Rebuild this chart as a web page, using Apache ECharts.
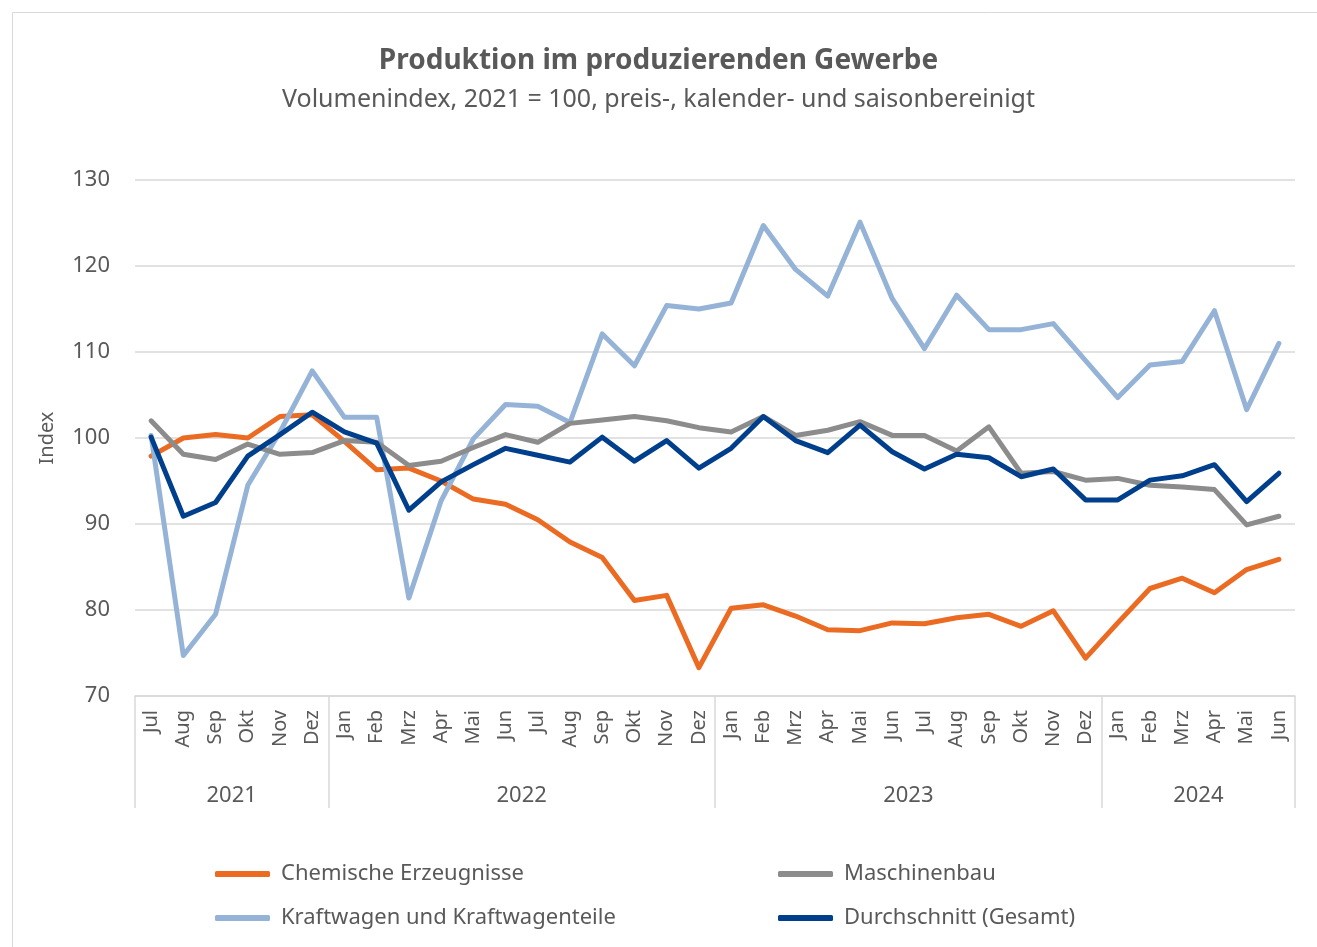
<!DOCTYPE html>
<html>
<head>
<meta charset="utf-8">
<script src="https://cdn.jsdelivr.net/npm/echarts@6/dist/echarts.min.js"></script>
<style>
html,body{margin:0;padding:0;background:#fff;}
#chart{width:1317px;height:947px;}
</style>
</head>
<body>
<div id="chart"></div>
<script>
// ---- data ----
const months = ['Jul','Aug','Sep','Okt','Nov','Dez',
  'Jan','Feb','Mrz','Apr','Mai','Jun','Jul','Aug','Sep','Okt','Nov','Dez',
  'Jan','Feb','Mrz','Apr','Mai','Jun','Jul','Aug','Sep','Okt','Nov','Dez',
  'Jan','Feb','Mrz','Apr','Mai','Jun'];
const years = ['2021','2022','2023','2024'];
const monthsPerYear = [6, 12, 12, 6];

const chemische = [97.9,100.0,100.4,100.0,102.5,102.7,
  99.6,96.3,96.5,95.0,92.9,92.3,90.5,87.9,86.1,81.1,81.7,73.3,
  80.2,80.6,79.3,77.7,77.6,78.5,78.4,79.1,79.5,78.1,79.9,74.4,
  78.5,82.5,83.7,82.0,84.7,85.9];
const maschinenbau = [102.0,98.1,97.5,99.3,98.1,98.3,
  99.7,99.5,96.8,97.3,98.9,100.4,99.5,101.7,102.1,102.5,102.0,101.2,
  100.7,102.5,100.3,100.9,101.9,100.3,100.3,98.5,101.3,95.9,96.1,95.1,
  95.3,94.5,94.3,94.0,89.9,90.9];
const kraftwagen = [100.3,74.7,79.5,94.5,100.7,107.8,
  102.4,102.4,81.4,92.7,99.9,103.9,103.7,101.8,112.1,108.4,115.4,115.0,
  115.7,124.7,119.6,116.5,125.1,116.2,110.4,116.6,112.6,112.6,113.3,109.0,
  104.7,108.5,108.9,114.8,103.3,111.0];
const durchschnitt = [100.1,90.9,92.5,97.9,100.4,103.0,
  100.7,99.4,91.6,94.9,96.9,98.8,98.0,97.2,100.1,97.3,99.7,96.5,
  98.8,102.5,99.7,98.3,101.5,98.4,96.4,98.1,97.7,95.5,96.4,92.8,
  92.8,95.1,95.6,96.9,92.6,95.9];
const yTicks = {min: 70, max: 130, interval: 10};

// ---- year axis built from years/monthsPerYear (half-month slots) ----
const totalHalf = months.length * 2;
const yearSlots = new Array(totalHalf + 1).fill('');
const boundaries = [0];
let acc = 0;
years.forEach((y, i) => {
  const start = acc;
  acc += monthsPerYear[i] * 2;
  yearSlots[(start + acc) / 2] = y;
  boundaries.push(acc);
});

const FONT = '"Noto Sans", "Open Sans", sans-serif';
const TXT = '#595959';
const GRID = '#d9d9d9';

const colors = {
  chem: '#EB6B23',
  masch: '#8C8C8C',
  kraft: '#95B3D7',
  durch: '#003F8C'
};

const chart = echarts.init(document.getElementById('chart'));
function lineSeries(name, data, color) {
  return {
    name, type: 'line', data, xAxisIndex: 0,
    symbol: 'none', smooth: false,
    lineStyle: {width: 5, color, cap: 'round', join: 'round'},
    itemStyle: {color}
  };
}
const legendBase = {
  orient: 'vertical', itemGap: 22, top: 858,
  icon: 'roundRect', itemWidth: 55, itemHeight: 6,
  textStyle: {fontFamily: FONT, fontSize: 22, color: TXT, padding: [0, 0, 0, 6]}
};
chart.setOption({
  animation: false,
  textStyle: {fontFamily: FONT},
  title: {
    text: 'Produktion im produzierenden Gewerbe',
    subtext: 'Volumenindex, 2021 = 100, preis-, kalender- und saisonbereinigt',
    left: 'center', top: 42, itemGap: 12,
    textStyle: {fontFamily: FONT, fontSize: 28, fontWeight: 'bold', color: TXT},
    subtextStyle: {fontFamily: FONT, fontSize: 25, color: TXT}
  },
  graphic: [{
    type: 'rect', left: 10, top: 10, silent: true,
    shape: {width: 1305, height: 960},
    style: {fill: 'none', stroke: GRID, lineWidth: 1}
  }],
  legend: [
    Object.assign({}, legendBase, {left: 210, data: ['Chemische Erzeugnisse', 'Kraftwagen und Kraftwagenteile']}),
    Object.assign({}, legendBase, {left: 773, data: ['Maschinenbau', 'Durchschnitt (Gesamt)']})
  ],
  grid: {left: 135, right: 22, top: 180, bottom: 251, containLabel: false},
  xAxis: [{
    type: 'category', data: months, boundaryGap: true,
    axisLine: {show: true, lineStyle: {color: GRID, width: 1.5}},
    axisTick: {show: false},
    axisLabel: {rotate: 90, interval: 0, margin: 14, fontSize: 20, color: TXT, fontFamily: FONT}
  }, {
    type: 'category', data: yearSlots, boundaryGap: false, position: 'bottom',
    axisLine: {show: false},
    axisTick: {show: true, length: 112, interval: (i) => boundaries.includes(i),
      lineStyle: {color: GRID, width: 1.5}},
    axisLabel: {interval: 0, margin: 89, fontSize: 22, color: TXT, fontFamily: FONT}
  }],
  yAxis: {
    type: 'value', min: yTicks.min, max: yTicks.max, interval: yTicks.interval,
    name: 'Index', nameLocation: 'middle', nameGap: 78, nameRotate: 90,
    nameTextStyle: {fontSize: 20, color: TXT, fontFamily: FONT},
    axisLine: {show: false}, axisTick: {show: false},
    axisLabel: {fontSize: 22, color: TXT, margin: 25, fontFamily: FONT},
    splitLine: {lineStyle: {color: GRID, width: 1.5}}
  },
  series: [
    lineSeries('Chemische Erzeugnisse', chemische, colors.chem),
    lineSeries('Kraftwagen und Kraftwagenteile', kraftwagen, colors.kraft),
    lineSeries('Maschinenbau', maschinenbau, colors.masch),
    lineSeries('Durchschnitt (Gesamt)', durchschnitt, colors.durch)
  ]
});
</script>
</body>
</html>
